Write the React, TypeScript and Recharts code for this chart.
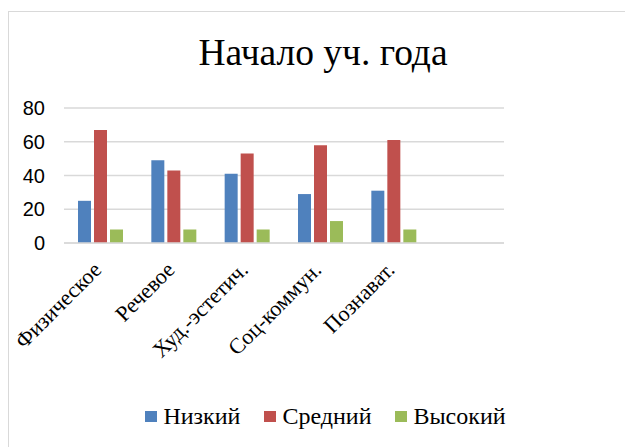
import { BarChart, Bar, XAxis, YAxis, CartesianGrid, Legend } from "recharts"

const categories = ["Физическое", "Речевое", "Худ.-эстетич.", "Соц-коммун.", "Познават.", ""]
const low = [25, 49, 41, 29, 31, null]
const mid = [67, 43, 53, 58, 61, null]
const high = [8, 8, 8, 13, 8, null]
const yTicks = [0, 20, 40, 60, 80]

const series = [
  { key: "low", name: "Низкий", color: "#4f81bd" },
  { key: "mid", name: "Средний", color: "#c0504d" },
  { key: "high", name: "Высокий", color: "#9bbb59" },
]

const data = categories.map((name, i) => ({ name, low: low[i], mid: mid[i], high: high[i] }))

const serif = "'Liberation Serif', 'Times New Roman', serif"
const sans = "'Liberation Sans', Arial, sans-serif"

function AngledTick(props: any) {
  const { x, y, payload } = props
  const ax = x + 2
  const ay = y + 28
  return (
    <text
      x={ax}
      y={ay}
      transform={`rotate(-45, ${ax}, ${ay})`}
      textAnchor="end"
      fontFamily={serif}
      fontSize={22}
      fill="#000"
    >
      {payload.value}
    </text>
  )
}

function LegendBox() {
  return (
    <div style={{ height: 24, display: "flex", justifyContent: "center", alignItems: "center", fontFamily: serif, fontSize: 24, color: "#000", paddingLeft: 138 }}>
      {series.map((s) => (
        <span key={s.key} style={{ display: "inline-flex", alignItems: "center", margin: "0 12px" }}>
          <span style={{ width: 12, height: 11, background: s.color, display: "inline-block", marginRight: 6 }} />
          {s.name}
        </span>
      ))}
    </div>
  )
}

export default function App() {
  return (
    <div style={{ position: "relative", marginTop: 3, width: 616, height: 436, borderLeft: "1px solid #d9d9d9", borderTop: "1px solid #d9d9d9" }}>
      <div style={{ position: "absolute", left: 0, top: 22, width: 628, textAlign: "center", fontFamily: serif, fontSize: 37.5, lineHeight: "37.5px", color: "#000" }}>
        Начало уч. года
      </div>
      <BarChart width={616} height={436} data={data} margin={{ top: 96, right: 121, left: 0, bottom: 20 }} barGap={3} barSize={13}>
        <CartesianGrid vertical={false} stroke="#d9d9d9" strokeWidth={1.5} />
        <XAxis dataKey="name" interval={0} height={161} tickLine={false} tickSize={0} tickMargin={0} axisLine={{ stroke: "#d9d9d9", strokeWidth: 1.5 }} tick={<AngledTick />} />
        <YAxis width={55} domain={[0, 80]} ticks={yTicks} tickLine={false} axisLine={false} tickSize={0} tickMargin={19} tick={{ fontFamily: sans, fontSize: 20, fill: "#000" }} />
        <Legend verticalAlign="bottom" content={<LegendBox />} />
        {series.map((s) => (
          <Bar key={s.key} dataKey={s.key} name={s.name} fill={s.color} isAnimationActive={false} />
        ))}
      </BarChart>
    </div>
  )
}
